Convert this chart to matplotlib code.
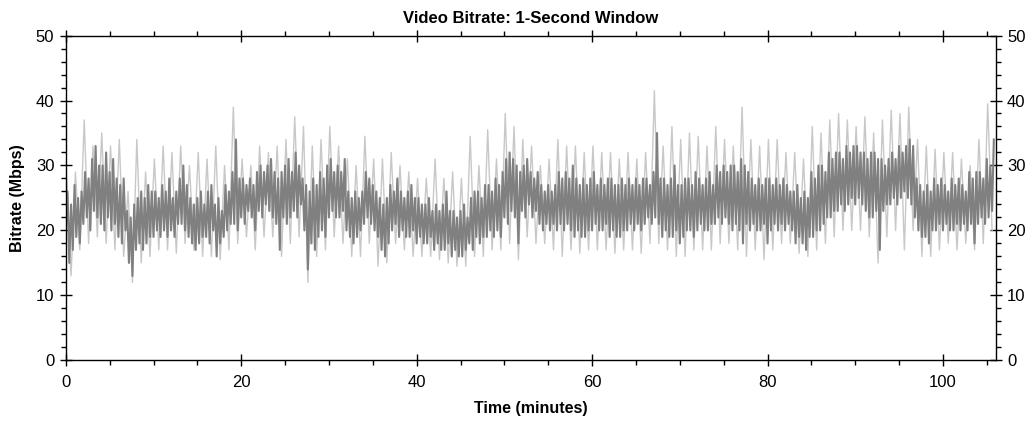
import numpy as np
import matplotlib
matplotlib.use("Agg")
import matplotlib.pyplot as plt
from matplotlib.ticker import MultipleLocator

plt.rcParams['font.family'] = ['Liberation Sans', 'DejaVu Sans']

# main bitrate trace, 5 samples per minute (Mbps)
rate_00_10 = [20, 26, 15, 24, 17, 27, 19, 25, 18, 26, 21, 29, 22, 28, 20,
              31, 23, 33, 22, 30, 21, 30, 20, 32, 22, 29, 20, 31, 21, 28,
              19, 27, 18, 28, 20, 23, 15, 22, 13, 24, 17, 25, 18, 26, 17,
              25, 18, 27, 19, 26]
rate_10_20 = [19, 26, 20, 25, 19, 27, 20, 26, 19, 28, 20, 25, 19, 26, 21,
              28, 21, 30, 20, 27, 19, 25, 18, 24, 17, 25, 18, 26, 19, 24,
              19, 26, 18, 27, 20, 24, 16, 25, 18, 23, 19, 27, 20, 26, 21,
              29, 21, 34, 20, 28]
rate_20_30 = [22, 28, 21, 27, 23, 28, 22, 27, 20, 29, 23, 30, 22, 29, 24,
              30, 23, 31, 22, 29, 21, 28, 17, 29, 22, 30, 21, 31, 22, 29,
              23, 32, 22, 30, 24, 28, 20, 27, 14, 26, 18, 28, 17, 27, 19,
              29, 20, 28, 19, 30]
rate_30_40 = [22, 31, 23, 29, 22, 30, 22, 29, 23, 31, 20, 26, 19, 25, 18,
              26, 19, 25, 20, 26, 21, 29, 22, 28, 21, 27, 20, 26, 19, 25,
              17, 24, 16, 25, 18, 27, 20, 26, 21, 28, 19, 26, 20, 25, 19,
              26, 19, 27, 20, 25]
rate_40_50 = [18, 25, 19, 24, 18, 24, 18, 25, 19, 23, 17, 24, 18, 23, 17,
              24, 17, 26, 18, 23, 16, 23, 17, 22, 16, 23, 16, 24, 17, 22,
              18, 25, 17, 26, 19, 26, 18, 25, 19, 27, 19, 27, 20, 26, 19,
              28, 20, 27, 19, 29]
rate_50_60 = [22, 31, 21, 32, 23, 31, 22, 30, 18, 29, 23, 30, 22, 31, 24,
              29, 22, 28, 23, 29, 21, 27, 20, 26, 21, 27, 20, 26, 21, 27,
              20, 29, 21, 28, 20, 29, 21, 28, 20, 30, 19, 28, 20, 27, 19,
              28, 19, 27, 20, 28]
rate_60_70 = [20, 29, 21, 27, 20, 28, 20, 27, 21, 28, 19, 28, 20, 27, 19,
              27, 19, 28, 20, 27, 20, 28, 21, 27, 20, 28, 21, 27, 20, 28,
              21, 28, 22, 27, 21, 29, 22, 35, 21, 28, 19, 28, 20, 27, 19,
              28, 19, 30, 20, 27]
rate_70_80 = [18, 27, 19, 28, 20, 28, 20, 27, 19, 29, 20, 28, 21, 27, 20,
              28, 20, 29, 21, 27, 21, 30, 22, 29, 21, 30, 22, 29, 21, 30,
              20, 30, 21, 29, 20, 31, 18, 30, 21, 29, 20, 28, 21, 27, 20,
              28, 20, 27, 21, 28]
rate_80_90 = [18, 28, 20, 27, 21, 28, 20, 27, 21, 28, 20, 27, 21, 26, 20,
              26, 18, 27, 19, 25, 18, 26, 17, 25, 19, 29, 19, 28, 20, 30,
              20, 30, 21, 29, 22, 32, 22, 31, 23, 32, 23, 32, 24, 31, 23,
              33, 24, 32, 25, 33]
rate_90_100 = [24, 33, 25, 32, 24, 32, 23, 31, 22, 32, 22, 32, 23, 31, 17,
               31, 23, 30, 24, 31, 24, 32, 25, 31, 24, 33, 25, 32, 26, 33,
               25, 34, 24, 33, 22, 28, 20, 27, 19, 26, 19, 27, 18, 26, 20,
               28, 20, 27, 21, 28]
rate_100_106 = [20, 27, 21, 26, 20, 28, 20, 27, 21, 28, 20, 27, 21, 26, 20,
                29, 21, 28, 18, 29, 21, 29, 22, 28, 21, 31, 22, 30, 23, 34]

# light grey peak/trough trace, 2 samples per minute
peak_00_20 = [28, 13, 29, 17, 37, 18, 33, 19, 35, 18, 33, 17, 34, 16, 26, 12,
              34, 15, 29, 16, 31, 17, 33, 17, 32, 16.5, 33, 18, 30, 17, 32, 16,
              31, 16, 33, 15.5, 30, 17, 39, 18]
peak_20_40 = [31, 19, 30, 17, 33, 19, 32, 19, 33, 16, 34, 18, 37.5, 19, 36, 12,
              33, 16, 34, 17, 36, 19, 33, 18, 31, 16, 30, 16, 34.5, 18, 31, 14.5,
              31, 15, 32, 18, 30, 17, 29, 16]
peak_40_60 = [28, 16, 28, 16, 31, 15.5, 28, 15, 29, 14.5, 28, 14.5, 34.5, 16, 30, 16,
              35.5, 17, 31, 17, 38, 18, 36, 15.5, 34, 19, 33, 18, 30, 18, 31, 17,
              34, 16, 33, 17, 33, 16.5, 32, 17]
peak_60_80 = [33, 17, 32, 17, 32, 16.5, 31, 17, 32, 17, 31, 16.5, 32, 18, 41.5, 18,
              33, 17, 36, 16, 34, 16, 35, 17, 34.5, 17, 33, 17, 36, 18, 34, 18,
              33, 17, 39, 16, 34, 17, 33, 15.5]
peak_80_106 = [34, 17, 34, 18, 32, 18, 32, 16.5, 31, 16, 36, 17, 35, 18, 37, 19,
               38, 20, 37, 20, 36, 20, 37.5, 19, 35, 15, 37, 19, 38.5, 20, 38, 17,
               39, 20, 34, 16, 33, 16, 32.5, 17, 32, 18, 32, 17, 31, 18, 30, 17,
               34, 18, 39.5, 20]

rate = np.array(rate_00_10 + rate_10_20 + rate_20_30 + rate_30_40 + rate_40_50 +
                rate_50_60 + rate_60_70 + rate_70_80 + rate_80_90 + rate_90_100 +
                rate_100_106)
peak = np.array(peak_00_20 + peak_20_40 + peak_40_60 + peak_60_80 + peak_80_106)

t_rate = np.arange(len(rate)) / 5.0
t_peak = np.arange(len(peak)) / 2.0 + 0.1

fig = plt.figure(figsize=(10.36, 4.23), dpi=100)
ax = fig.add_axes([0.0635, 0.148, 0.8975, 0.768])

ax.plot(t_peak, peak, color='#c8c8c8', lw=1.0)
ax.plot(t_rate, rate, color='#808080', lw=1.5)

ax.set_xlim(0, 106)
ax.set_ylim(0, 50)
ax.xaxis.set_major_locator(MultipleLocator(20))
ax.xaxis.set_minor_locator(MultipleLocator(5))
ax.yaxis.set_major_locator(MultipleLocator(10))
ax.yaxis.set_minor_locator(MultipleLocator(2))

ax.tick_params(axis='y', which='major', direction='inout', length=8.5, width=1,
               left=True, right=True, labelleft=True, labelright=True,
               labelsize=12, pad=4)
ax.tick_params(axis='y', which='minor', direction='out', length=3.5, width=1,
               left=True, right=True)
ax.tick_params(axis='x', which='major', direction='inout', length=8.5, width=1,
               bottom=True, top=True, labelsize=12, pad=6)
ax.tick_params(axis='x', which='minor', direction='out', length=3.5, width=1,
               bottom=True, top=True)
for s in ax.spines.values():
    s.set_linewidth(1)

ax.set_title('Video Bitrate: 1-Second Window', fontsize=12, fontweight='bold', pad=9)
ax.set_xlabel('Time (minutes)', fontsize=11.5, fontweight='bold', labelpad=8)
ax.set_ylabel('Bitrate (Mbps)', fontsize=11.5, fontweight='bold', labelpad=8)

fig.savefig('out.png', dpi=100)
